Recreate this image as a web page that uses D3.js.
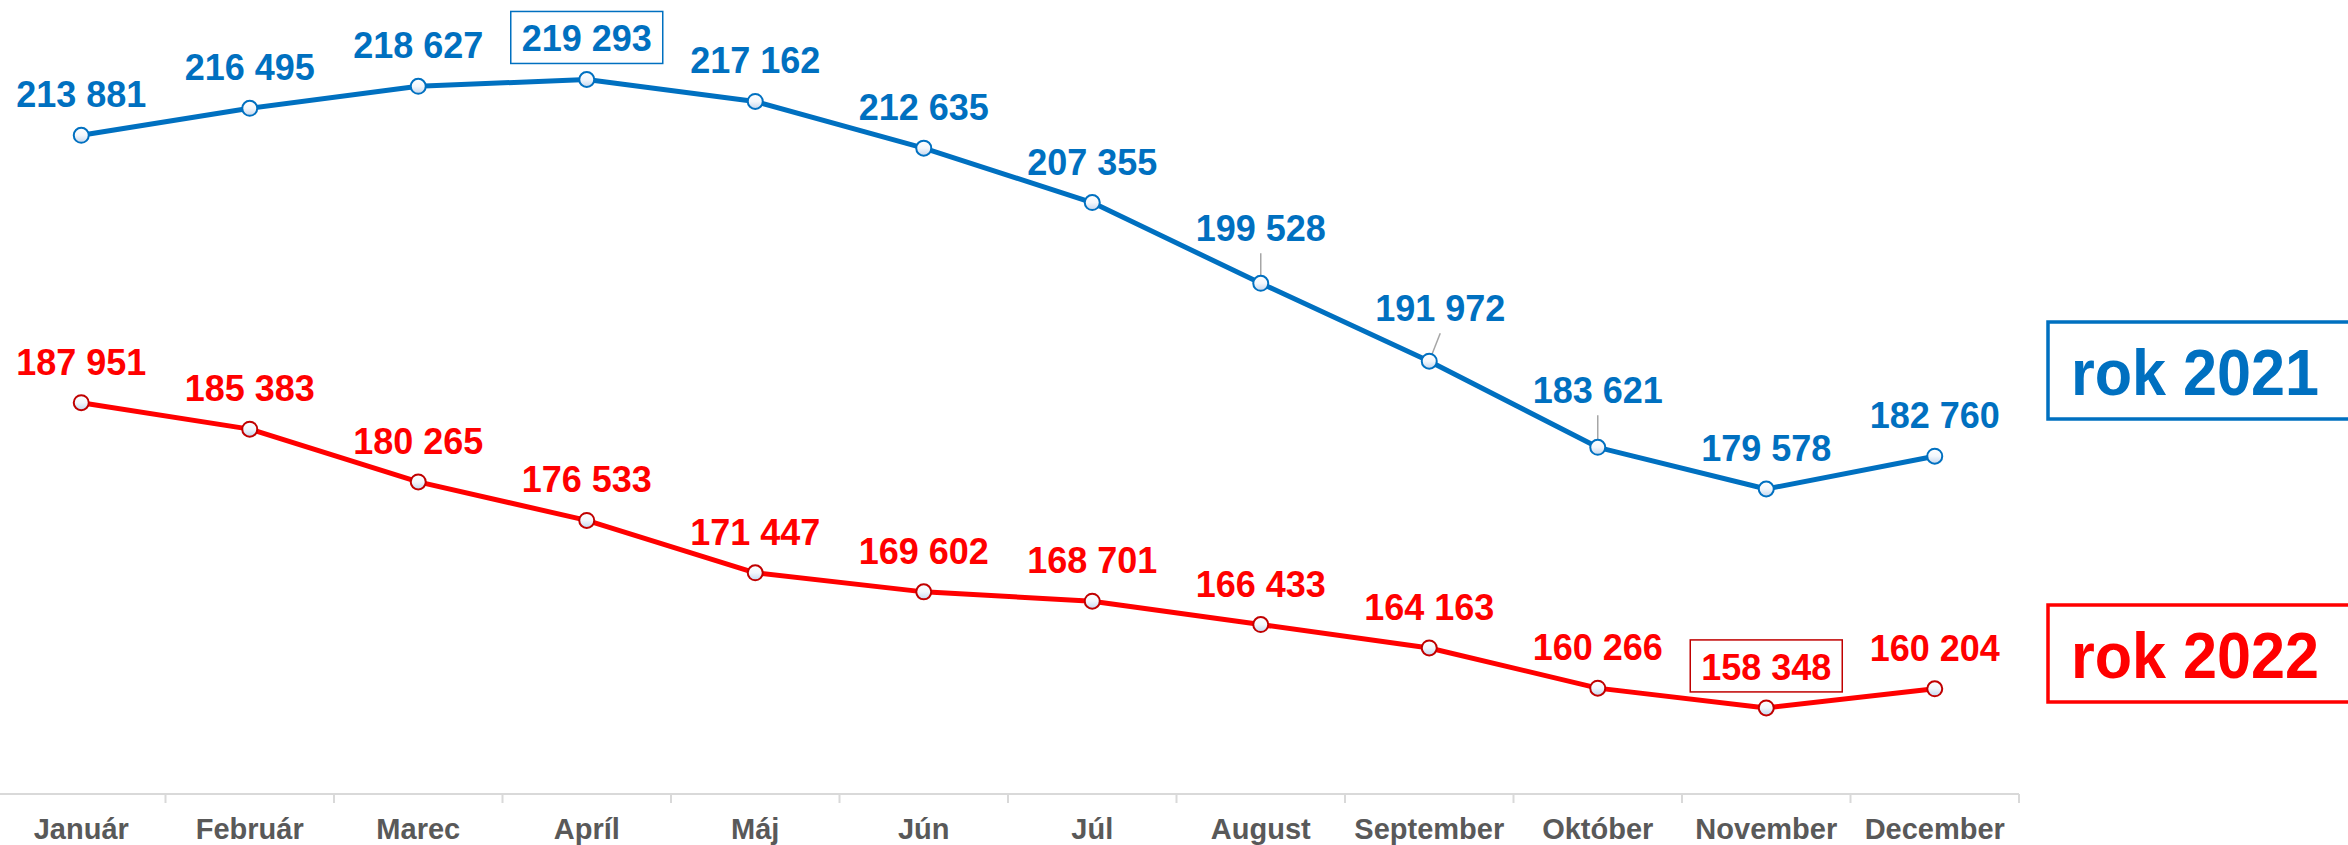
<!DOCTYPE html>
<html>
<head>
<meta charset="utf-8">
<script src="https://cdn.jsdelivr.net/npm/d3@7"></script>
<style>
  html, body { margin: 0; padding: 0; background: #fff; }
  svg { display: block; font-family: Arial, "Liberation Sans", sans-serif; }
</style>
</head>
<body>
<script>
// months on the x axis
var months = ['Január', 'Február', 'Marec', 'Apríl', 'Máj', 'Jún', 'Júl',
    'August', 'September', 'Október', 'November', 'December'];

// values per month
var values2021 = [213881, 216495, 218627, 219293, 217162, 212635, 207355,
    199528, 191972, 183621, 179578, 182760];
var values2022 = [187951, 185383, 180265, 176533, 171447, 169602, 168701,
    166433, 164163, 160266, 158348, 160204];

var seriesNames = ['rok 2021', 'rok 2022'];

var width = 2348, height = 845;
var axisY = 794;

// labels that sit higher with a leader line (index -> [dx, dy])
var nudge2021 = { 7: [0, -14], 8: [11, -12], 9: [0, -16] };

var series = [
    { name: seriesNames[0], values: values2021, color: '#0070C0', marker: '#0070C0',
      boxColor: '#0070C0', boxIndex: d3.maxIndex(values2021), nudge: nudge2021, legendY: 322 },
    { name: seriesNames[1], values: values2022, color: '#FF0000', marker: '#C00000',
      boxColor: '#C00000', boxIndex: d3.minIndex(values2022), nudge: {}, legendY: 605 }
];

var fmt = d3.formatLocale({ decimal: ',', thousands: ' ', grouping: [3], currency: ['', ''] }).format(',d');

var svg = d3.select('body').append('svg')
    .attr('width', width)
    .attr('height', height);

var defs = svg.append('defs');
var grad = defs.append('linearGradient')
    .attr('id', 'markerFill')
    .attr('x1', 0).attr('y1', 0).attr('x2', 0).attr('y2', 1);
grad.append('stop').attr('offset', '0%').attr('stop-color', '#ffffff');
grad.append('stop').attr('offset', '50%').attr('stop-color', '#f3f7fc');
grad.append('stop').attr('offset', '100%').attr('stop-color', '#c3d6ee');

// scales
var x = d3.scaleBand()
    .domain(months)
    .range([-3, 2019])
    .padding(0);

var y = d3.scaleLinear()
    .domain([150000, 227000])
    .range([axisY, 0]);

function cx(i) { return x(months[i]) + x.bandwidth() / 2; }

// x axis: line, boundary ticks, labels
var axisG = svg.append('g');
axisG.append('line')
    .attr('x1', x.range()[0]).attr('x2', x.range()[1])
    .attr('y1', axisY).attr('y2', axisY)
    .attr('stroke', '#d9d9d9')
    .attr('stroke-width', 2);

var bounds = months.map(function (m) { return x(m); }).concat([x.range()[1]]);
axisG.selectAll('line.tick')
    .data(bounds)
    .enter().append('line')
    .attr('class', 'tick')
    .attr('x1', function (d) { return d; })
    .attr('x2', function (d) { return d; })
    .attr('y1', axisY)
    .attr('y2', axisY + 9)
    .attr('stroke', '#d9d9d9')
    .attr('stroke-width', 2);

var labelAxis = d3.axisBottom(x).tickSize(0).tickPadding(0);
var la = svg.append('g')
    .attr('transform', 'translate(0,' + axisY + ')')
    .call(labelAxis);
la.select('.domain').remove();
la.selectAll('text')
    .attr('dy', null)
    .attr('y', 45)
    .attr('fill', '#595959')
    .style('font-family', 'Arial, "Liberation Sans", sans-serif')
    .style('font-size', '29px')
    .style('font-weight', 'bold');

var line = d3.line()
    .x(function (d, i) { return cx(i); })
    .y(function (d) { return y(d); });

series.forEach(function (s) {
    var g = svg.append('g');

    g.append('path')
        .datum(s.values)
        .attr('d', line)
        .attr('fill', 'none')
        .attr('stroke', s.color)
        .attr('stroke-width', 5)
        .attr('stroke-linejoin', 'round');

    // leader lines for nudged labels
    Object.keys(s.nudge).forEach(function (k) {
        var i = +k, n = s.nudge[k];
        var px = cx(i), py = y(s.values[i]);
        g.append('line')
            .attr('x1', px + n[0]).attr('y1', py - 28 + n[1] + 12)
            .attr('x2', px).attr('y2', py)
            .attr('stroke', '#a6a6a6')
            .attr('stroke-width', 1.5);
    });

    g.selectAll('circle')
        .data(s.values)
        .enter().append('circle')
        .attr('cx', function (d, i) { return cx(i); })
        .attr('cy', function (d) { return y(d); })
        .attr('r', 7.5)
        .attr('fill', 'url(#markerFill)')
        .attr('stroke', s.marker)
        .attr('stroke-width', 2);

    // highlight box (max / min)
    var bi = s.boxIndex;
    g.append('rect')
        .attr('x', cx(bi) - 76)
        .attr('y', y(s.values[bi]) - 28 - 40)
        .attr('width', 152)
        .attr('height', 52)
        .attr('fill', '#fff')
        .attr('stroke', s.boxColor)
        .attr('stroke-width', 1.5);

    g.selectAll('text.val')
        .data(s.values)
        .enter().append('text')
        .attr('class', 'val')
        .attr('x', function (d, i) { return cx(i) + (s.nudge[i] ? s.nudge[i][0] : 0); })
        .attr('y', function (d, i) { return y(d) - 28 + (s.nudge[i] ? s.nudge[i][1] : 0); })
        .attr('text-anchor', 'middle')
        .attr('fill', s.color)
        .style('font-size', '36px')
        .style('font-weight', 'bold')
        .text(function (d) { return fmt(d); });

    // legend box on the right
    g.append('rect')
        .attr('x', 2048)
        .attr('y', s.legendY)
        .attr('width', 320)
        .attr('height', 97)
        .attr('fill', 'none')
        .attr('stroke', s.color)
        .attr('stroke-width', 3.5);
    g.append('text')
        .attr('x', 2071)
        .attr('y', s.legendY + 73)
        .attr('fill', s.color)
        .attr('textLength', 248)
        .attr('lengthAdjust', 'spacingAndGlyphs')
        .style('font-size', '64px')
        .style('font-weight', 'bold')
        .text(s.name);
});
</script>
</body>
</html>
